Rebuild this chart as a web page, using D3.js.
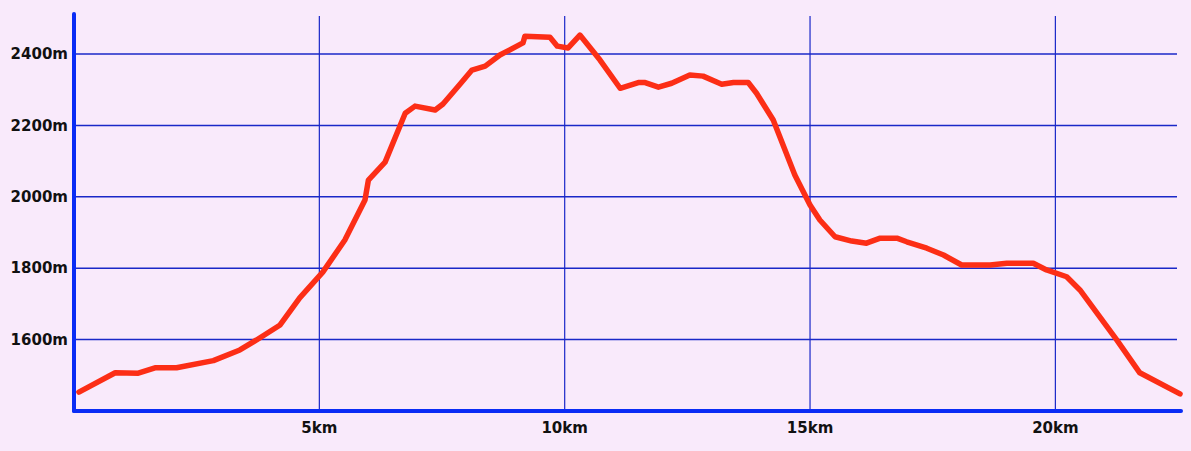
<!DOCTYPE html>
<html>
<head>
<meta charset="utf-8">
<script src="https://cdn.jsdelivr.net/npm/d3@7"></script>
<style>
  html, body { margin: 0; padding: 0; background: #f9eafb; }
  svg { display: block; }
  text { font-family: "DejaVu Sans", sans-serif; font-weight: bold; fill: #111; }
</style>
</head>
<body>
<svg id="chart" width="1191" height="451"></svg>
<script>
const distanceKm = [0.1, 0.84, 1.31, 1.65, 2.09, 2.84, 3.38, 3.72, 4.2, 4.6, 5.07, 5.52, 5.93, 6.0, 6.34, 6.75, 6.95, 7.36, 7.52, 7.87, 8.11, 8.38, 8.68, 9.15, 9.19, 9.70, 9.85, 10.07, 10.31, 10.72, 11.13, 11.5, 11.64, 11.91, 12.18, 12.55, 12.82, 13.2, 13.44, 13.74, 13.91, 14.25, 14.69, 15.0, 15.2, 15.51, 15.85, 16.15, 16.43, 16.77, 16.97, 17.38, 17.72, 18.09, 18.67, 19.01, 19.55, 19.82, 20.23, 20.5, 21.25, 21.72, 22.54];
const elevationM = [1453, 1507, 1506, 1521, 1521, 1541, 1571, 1599, 1641, 1717, 1789, 1879, 1991, 2047, 2097, 2234, 2254, 2243, 2260, 2316, 2355, 2366, 2397, 2431, 2450, 2447, 2422, 2417, 2453, 2383, 2304, 2320, 2320, 2307, 2318, 2341, 2338, 2315, 2320, 2320, 2290, 2215, 2061, 1977, 1935, 1888, 1876, 1870, 1884, 1884, 1874, 1856, 1837, 1809, 1809, 1814, 1814, 1795, 1776, 1739, 1599, 1507, 1448];
const xTicks = [5, 10, 15, 20];
const yTicks = [1600, 1800, 2000, 2200, 2400];
const xTickLabels = ["5km", "10km", "15km", "20km"];
const yTickLabels = ["1600m", "1800m", "2000m", "2200m", "2400m"];

const svg = d3.select("#chart");
const mLeft = 74, mRight = 1181, mTop = 14, mBottom = 411;

const x = d3.scaleLinear().domain([0, 22.56]).range([mLeft, mRight]);
const y = d3.scaleLinear().domain([1400, 2512]).range([mBottom, mTop]);

svg.append("rect").attr("width", 1191).attr("height", 451).attr("fill", "#f9eafb");

svg.append("g").selectAll("line").data(yTicks).join("line")
  .attr("x1", mLeft).attr("x2", 1177)
  .attr("y1", d => y(d)).attr("y2", d => y(d))
  .attr("stroke", "#1a28c8").attr("stroke-width", 1.5);

svg.append("g").selectAll("line").data(xTicks).join("line")
  .attr("x1", d => x(d)).attr("x2", d => x(d))
  .attr("y1", 16).attr("y2", mBottom)
  .attr("stroke", "#1a28c8").attr("stroke-width", 1.2);

const line = d3.line().x((d, i) => x(distanceKm[i])).y(d => y(d));
svg.append("path").datum(elevationM)
  .attr("d", line)
  .attr("fill", "none")
  .attr("stroke", "#fc2e16")
  .attr("stroke-width", 5.5)
  .attr("stroke-linejoin", "round")
  .attr("stroke-linecap", "round");

svg.append("line").attr("x1", mLeft).attr("x2", mLeft).attr("y1", mTop).attr("y2", mBottom)
  .attr("stroke", "#0a2cf5").attr("stroke-width", 4).attr("stroke-linecap", "round");
svg.append("line").attr("x1", mLeft).attr("x2", mRight).attr("y1", mBottom).attr("y2", mBottom)
  .attr("stroke", "#0a2cf5").attr("stroke-width", 4).attr("stroke-linecap", "round");

svg.append("g").selectAll("text").data(yTicks).join("text")
  .attr("x", 68).attr("y", d => y(d)).attr("dy", "0.35em")
  .attr("text-anchor", "end").attr("font-size", 15)
  .text((d, i) => yTickLabels[i]);

svg.append("g").selectAll("text").data(xTicks).join("text")
  .attr("x", d => x(d)).attr("y", 428).attr("dy", "0.35em")
  .attr("text-anchor", "middle").attr("font-size", 15)
  .text((d, i) => xTickLabels[i]);
</script>
</body>
</html>
